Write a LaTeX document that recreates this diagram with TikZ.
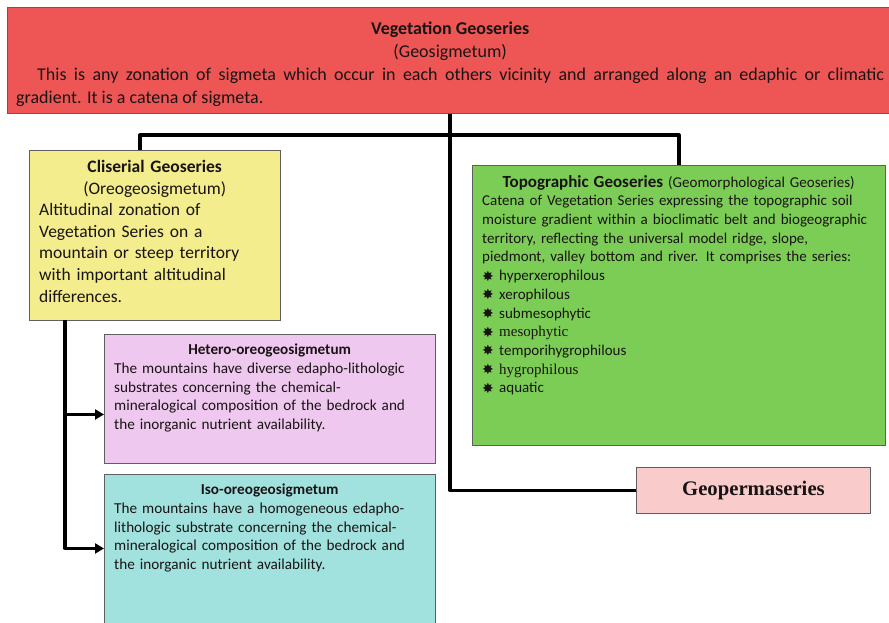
\documentclass[tikz,border=0pt]{standalone}
\usepackage{fontspec}
\setmainfont{Carlito}
\newfontfamily\tnr{Liberation Serif}
\newfontfamily\djv{DejaVu Sans}
\usetikzlibrary{arrows.meta}
\definecolor{redc}{RGB}{238,86,86}
\definecolor{yelc}{RGB}{244,237,142}
\definecolor{grnc}{RGB}{124,205,86}
\definecolor{pnkc}{RGB}{238,200,238}
\definecolor{tealc}{RGB}{162,226,222}
\definecolor{geoc}{RGB}{249,203,203}
\definecolor{edgec}{RGB}{95,95,95}
\definecolor{inkc}{RGB}{25,20,20}
\tikzset{
  box/.style={draw=edgec, line width=0.9pt, rectangle, inner sep=0pt, anchor=north west},
  txt/.style={inner sep=0pt, anchor=north west, align=left, text=inkc},
  conn/.style={line width=3.2pt, black, line join=round},
  arr/.style={conn, -{Triangle[length=9pt,width=10pt]}},
}
\newcommand{\bul}{\makebox[17pt][l]{\raisebox{-0.5pt}{\djv\fontsize{14}{14}\selectfont ✸}}}
\begin{document}
\begin{tikzpicture}[x=1pt,y=-1pt]
\useasboundingbox (0,0) rectangle (889,622);
\clip (0,0) rectangle (889,622);
\fill[white] (0,0) rectangle (889,622);

% boxes
\node[box, fill=redc, minimum width=884, minimum height=106] (top) at (7,7) {};
\node[box, fill=yelc, minimum width=251, minimum height=170] (clis) at (29,150) {};
\node[box, fill=grnc, minimum width=413, minimum height=280] (topo) at (472,165) {};
\node[box, fill=pnkc, minimum width=331, minimum height=129] (het) at (104,334) {};
\node[box, fill=tealc, minimum width=331, minimum height=160] (iso) at (104,474) {};
\node[box, fill=geoc, minimum width=234, minimum height=46] (geo) at (636,467) {};

% texts
\node[txt, text width=868pt, align=justify, font=\fontsize{18}{23}\selectfont] (toptxt) at (16,22)
 {\makebox[\linewidth]{\bfseries Vegetation Geoseries}\\
  \makebox[\linewidth]{(Geosigmetum)}\\
  \hspace*{21pt}This is any zonation of sigmeta which occur in each others vicinity and arranged along an edaphic or climatic\linebreak
  gradient. It is a catena of sigmeta.};

\node[txt, text width=231pt, font=\fontsize{17.5}{21.6}\selectfont] (clistxt) at (39,160)
 {\makebox[\linewidth]{\bfseries Cliserial Geoseries}\\
  \makebox[\linewidth]{(Oreogeosigmetum)}\\
  Altitudinal zonation of\\
  Vegetation Series on a\\
  mountain or steep territory\\
  with important altitudinal\\
  differences.};

\node[txt, text width=393pt, font=\fontsize{15}{18.7}\selectfont] (topotxt) at (482,175)
 {\makebox[\linewidth]{{\bfseries\fontsize{17}{18}\selectfont Topographic Geoseries} (Geomorphological Geoseries)}\\
  Catena of Vegetation Series expressing the topographic soil\\
  moisture gradient within a bioclimatic belt and biogeographic\\
  territory, reflecting the universal model ridge, slope,\\
  piedmont, valley bottom and river. It comprises the series:\\
  \bul hyperxerophilous\\
  \bul xerophilous\\
  \bul submesophytic\\
  \bul {\tnr mesophytic}\\
  \bul temporihygrophilous\\
  \bul {\tnr hygrophilous}\\
  \bul aquatic};

\node[txt, text width=311pt, font=\fontsize{15.2}{18.7}\selectfont] (hettxt) at (114,344)
 {\makebox[\linewidth]{\bfseries Hetero-oreogeosigmetum}\\
  The mountains have diverse edapho-lithologic\\
  substrates concerning the chemical-\\
  mineralogical composition of the bedrock and\\
  the inorganic nutrient availability.};

\node[txt, text width=311pt, font=\fontsize{15.2}{18.7}\selectfont] (isotxt) at (114,484)
 {\makebox[\linewidth]{\bfseries Iso-oreogeosigmetum}\\
  The mountains have a homogeneous edapho-\\
  lithologic substrate concerning the chemical-\\
  mineralogical composition of the bedrock and\\
  the inorganic nutrient availability.};

\node[inner sep=0pt, text=inkc, font=\tnr\bfseries\fontsize{20.7}{24}\selectfont] (geotxt) at (geo.center) {Geopermaseries};

% connectors
\coordinate (j) at (450,135);
\coordinate (cx) at (140,150);
\coordinate (bx) at (65,320);
\draw[conn] (top.south -| j) -- (j);
\draw[conn] (j) -| (cx);
\draw[conn] (j) -| (topo.north);
\draw[conn] (j) |- (geo.west);
\draw[arr] (bx) |- ([yshift=-15.5pt]het.west);
\draw[arr] (bx) |- ([yshift=6pt]iso.west);
\end{tikzpicture}
\end{document}
